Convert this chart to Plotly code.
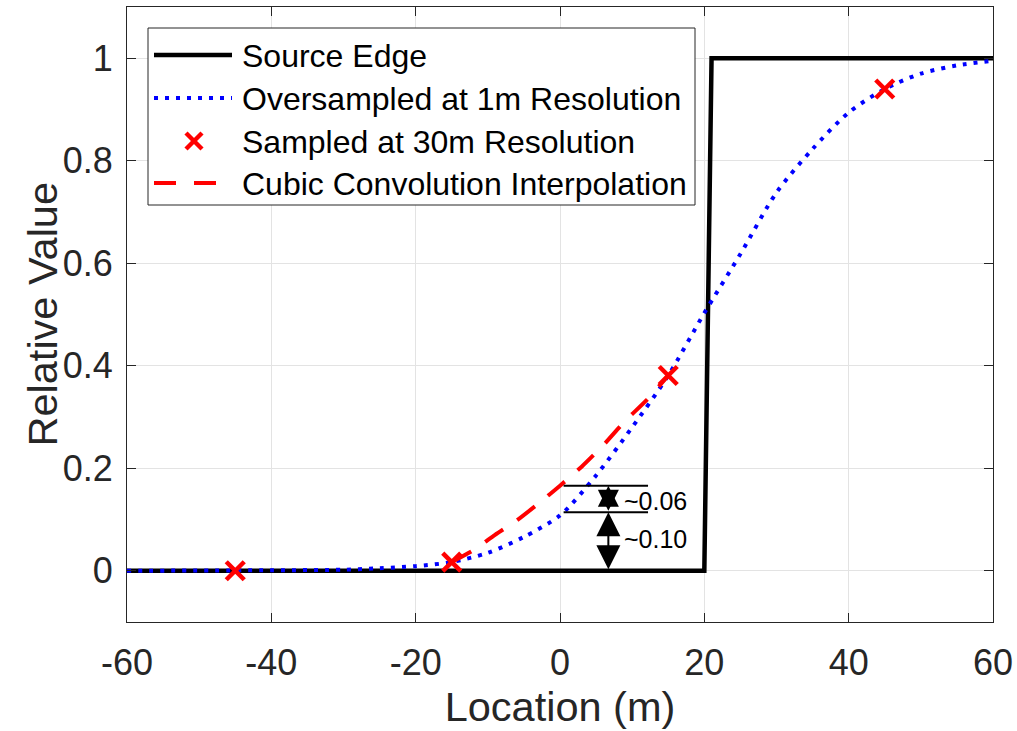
import plotly.graph_objects as go

# ---------------- data ----------------
source_x = [-60, 20, 21, 60]
source_y = [0, 0, 1, 1]

over_x = [-60, -40, -30, -25, -20, -15, -10, -5, 0, 5, 10, 15, 20, 25, 30, 35, 40, 45, 50, 55, 60]
over_y = [0.0, 0.001, 0.002, 0.005, 0.009, 0.017, 0.035, 0.066, 0.108, 0.186, 0.280, 0.381,
          0.503, 0.618, 0.738, 0.823, 0.894, 0.940, 0.970, 0.986, 0.995]

samp_x = [-45, -15, 15, 45]
samp_y = [0.0, 0.017, 0.381, 0.940]

cubic_x = [-15, -12, -9, -6, -3, 0, 3, 6, 9, 12, 15]
cubic_y = [0.017, 0.040, 0.070, 0.098, 0.131, 0.166, 0.203, 0.245, 0.292, 0.333, 0.381]

x_ticks = [-60, -40, -20, 0, 20, 40, 60]
y_ticks = [0, 0.2, 0.4, 0.6, 0.8, 1]
y_tick_text = ["0", "0.2", "0.4", "0.6", "0.8", "1"]

x_title = "Location (m)"
y_title = "Relative Value"

legend_names = ["Source Edge", "Oversampled at 1m Resolution",
                "Sampled at 30m Resolution", "Cubic Convolution Interpolation"]

# annotation of the differences
ref_levels = [0.114, 0.166]
ref_line_x = [0.5, 12.2]
arrow_x = 6.7
diff_labels = ["~0.06", "~0.10"]
diff_label_y = [0.136, 0.062]
diff_label_x = 8.6

# ---------------- figure ----------------
W, H = 1017, 731
L, R, T, B = 127, 24, 7, 109
PW, PH = W - L - R, H - T - B


def px(xp):
    return (xp - L) / PW


def py(yp):
    return (H - B - yp) / PH


FONT = "Liberation Sans, Arial, sans-serif"
AX = "#262626"

fig = go.Figure()
fig.add_trace(go.Scatter(x=source_x, y=source_y, mode="lines", name=legend_names[0],
                         line=dict(color="black", width=4.5), showlegend=False))
fig.add_trace(go.Scatter(x=over_x, y=over_y, mode="lines", name=legend_names[1],
                         line=dict(color="#0000FF", width=4, dash="4px,7px", shape="spline", smoothing=0.8),
                         showlegend=False))
fig.add_trace(go.Scatter(x=samp_x, y=samp_y, mode="markers", name=legend_names[2],
                         marker=dict(symbol="x-thin", size=18, color="#FF0000",
                                     line=dict(color="#FF0000", width=4.5)),
                         showlegend=False))
fig.add_trace(go.Scatter(x=cubic_x, y=cubic_y, mode="lines", name=legend_names[3],
                         line=dict(color="#FF0000", width=4, dash="22px,17px", shape="spline", smoothing=0.6),
                         showlegend=False))

shapes = []
annotations = []

# difference reference lines
for lvl in ref_levels:
    shapes.append(dict(type="line", xref="x", yref="y", x0=ref_line_x[0], x1=ref_line_x[1],
                       y0=lvl, y1=lvl, line=dict(color="black", width=2)))

# double-headed arrows
arrow_spans = [(ref_levels[0], ref_levels[1], 2.1), (0.0, ref_levels[0], 2.4)]
for lo, hi, hs in arrow_spans:
    annotations.append(dict(x=arrow_x, y=hi, ax=arrow_x, ay=lo, xref="x", yref="y",
                            axref="x", ayref="y", text="", showarrow=True,
                            arrowhead=2, startarrowhead=2, arrowside="end+start",
                            arrowwidth=2, arrowsize=hs, startarrowsize=hs,
                            arrowcolor="black", standoff=0, startstandoff=0))
for lab, ly in zip(diff_labels, diff_label_y):
    annotations.append(dict(x=diff_label_x, y=ly, xref="x", yref="y", text=lab,
                            showarrow=False, xanchor="left", yanchor="middle",
                            font=dict(family=FONT, size=25, color="black")))

# y axis title
annotations.append(dict(x=px(42), y=0.5, xref="paper", yref="paper", text=y_title,
                        textangle=-90, showarrow=False, xanchor="center", yanchor="middle",
                        font=dict(family=FONT, size=41.5, color=AX)))

# ---------------- manual legend ----------------
shapes.append(dict(type="rect", xref="paper", yref="paper", x0=px(148), x1=px(695),
                   y0=py(205), y1=py(28), line=dict(color="#262626", width=1),
                   fillcolor="white", layer="above"))
rows = [55, 98, 141, 183]
sx0, sx1 = 154, 232
shapes.append(dict(type="line", xref="paper", yref="paper", x0=px(sx0), x1=px(sx1),
                   y0=py(rows[0]), y1=py(rows[0]), line=dict(color="black", width=4.5), layer="above"))
shapes.append(dict(type="line", xref="paper", yref="paper", x0=px(sx0), x1=px(sx1),
                   y0=py(rows[1]), y1=py(rows[1]), line=dict(color="#0000FF", width=4, dash="4px,7px"),
                   layer="above"))
cx, cy, cr = 194, rows[2], 8
shapes.append(dict(type="line", xref="paper", yref="paper", x0=px(cx - cr), x1=px(cx + cr),
                   y0=py(cy - cr), y1=py(cy + cr), line=dict(color="#FF0000", width=4.5), layer="above"))
shapes.append(dict(type="line", xref="paper", yref="paper", x0=px(cx - cr), x1=px(cx + cr),
                   y0=py(cy + cr), y1=py(cy - cr), line=dict(color="#FF0000", width=4.5), layer="above"))
shapes.append(dict(type="line", xref="paper", yref="paper", x0=px(sx0), x1=px(sx1),
                   y0=py(rows[3]), y1=py(rows[3]), line=dict(color="#FF0000", width=4, dash="22px,18px"),
                   layer="above"))
for name, ry in zip(legend_names, rows):
    annotations.append(dict(x=px(240), y=py(ry + 1), xref="paper", yref="paper", text=name,
                            showarrow=False, xanchor="left", yanchor="middle",
                            font=dict(family=FONT, size=32, color="black")))

axis_common = dict(showline=True, linecolor=AX, linewidth=1, mirror="ticks",
                   ticks="inside", ticklen=9, tickcolor=AX, tickwidth=1,
                   showgrid=True, gridcolor="#e3e3e3", gridwidth=1, zeroline=False,
                   tickfont=dict(family=FONT, size=36, color=AX))

fig.update_xaxes(range=[-60, 60], tickvals=x_ticks, ticktext=[str(v) for v in x_ticks],
                 title=dict(text=x_title, font=dict(family=FONT, size=41.5, color=AX), standoff=3),
                 ticklabelstandoff=9, **axis_common)
fig.update_yaxes(range=[-0.1, 1.1], tickvals=y_ticks, ticktext=y_tick_text,
                 ticklabelstandoff=6, **axis_common)

fig.update_layout(width=W, height=H, margin=dict(l=L, r=R, t=T, b=B, autoexpand=False),
                  paper_bgcolor="white", plot_bgcolor="white", showlegend=False,
                  shapes=shapes, annotations=annotations)

fig.write_html("out.html")
